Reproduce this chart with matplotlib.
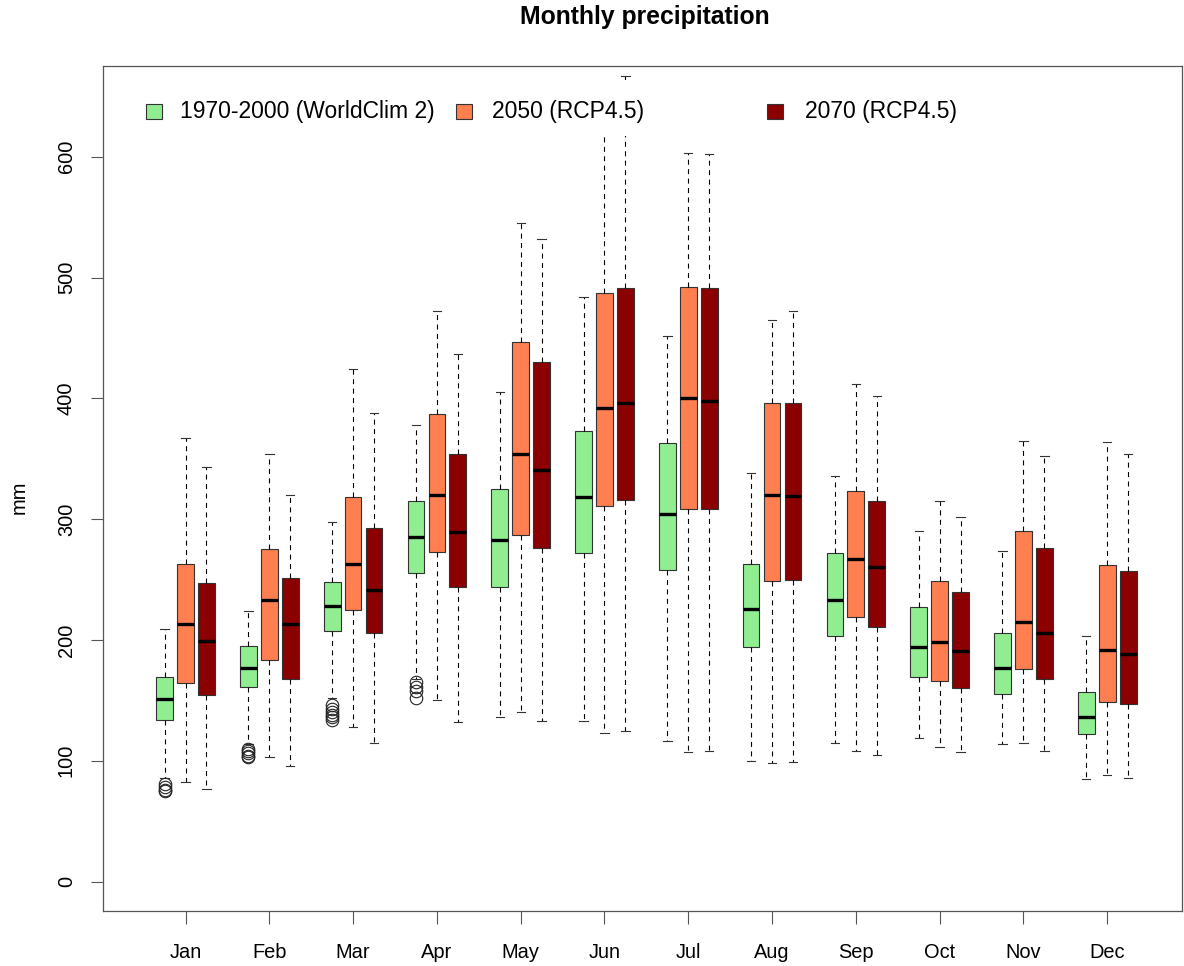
import matplotlib
matplotlib.use("Agg")
import matplotlib.pyplot as plt
from matplotlib.patches import Rectangle

# ======================
# data (mm)
# ======================
months = ["Jan", "Feb", "Mar", "Apr", "May", "Jun",
          "Jul", "Aug", "Sep", "Oct", "Nov", "Dec"]
series = ["1970-2000 (WorldClim 2)", "2050 (RCP4.5)", "2070 (RCP4.5)"]

# per series: lower whisker, q1, median, q3, upper whisker
wc_lo  = [86, 114, 152, 168, 136, 133, 116, 100, 115, 119, 114, 85]
wc_q1  = [134, 161, 207, 255, 244, 272, 258, 194, 203, 169, 155, 122]
wc_med = [151, 177, 228, 285, 283, 318, 304, 226, 233, 194, 177, 136]
wc_q3  = [169, 195, 248, 315, 325, 373, 363, 263, 272, 227, 206, 157]
wc_hi  = [209, 224, 298, 378, 405, 484, 452, 338, 336, 290, 274, 203]
wc_out = [[81, 78, 76, 75], [110, 108, 106, 104, 103],
          [146, 143, 140, 138, 136, 134], [165, 161, 158, 152],
          [], [], [], [], [], [], [], []]

r50_lo  = [82, 103, 128, 150, 140, 123, 107, 98, 108, 111, 115, 88]
r50_q1  = [164, 183, 225, 273, 287, 311, 308, 249, 219, 166, 176, 149]
r50_med = [213, 233, 263, 320, 354, 392, 400, 320, 267, 198, 215, 192]
r50_q3  = [263, 275, 318, 387, 447, 487, 492, 396, 323, 249, 290, 262]
r50_hi  = [367, 354, 424, 472, 545, 635, 603, 465, 412, 315, 365, 364]

r70_lo  = [77, 96, 115, 132, 133, 125, 108, 99, 105, 107, 108, 86]
r70_q1  = [154, 168, 206, 244, 276, 316, 308, 250, 211, 160, 168, 147]
r70_med = [199, 213, 241, 289, 341, 396, 398, 319, 260, 191, 206, 188]
r70_q3  = [247, 251, 293, 354, 430, 491, 491, 396, 315, 240, 276, 257]
r70_hi  = [343, 320, 388, 437, 532, 667, 602, 472, 402, 302, 352, 354]

colors = ["#90EE90", "#FF7F50", "#8B0000"]

# ======================
# style
# ======================
plt.rcParams.update({
    "font.family": ["Liberation Sans", "DejaVu Sans"],
    "font.size": 14.4,
})

fig = plt.figure(figsize=(11.84, 9.66), dpi=100)
ax = fig.add_axes([103 / 1184, 1 - 911 / 966, 1079 / 1184, 845 / 966])


def make_stats(lo, q1, med, q3, hi, out=None):
    stats = []
    for i in range(len(lo)):
        stats.append({
            "whislo": lo[i], "q1": q1[i], "med": med[i],
            "q3": q3[i], "whishi": hi[i],
            "fliers": out[i] if out is not None else [],
        })
    return stats


groups = [
    make_stats(wc_lo, wc_q1, wc_med, wc_q3, wc_hi, wc_out),
    make_stats(r50_lo, r50_q1, r50_med, r50_q3, r50_hi),
    make_stats(r70_lo, r70_q1, r70_med, r70_q3, r70_hi),
]

edge = "#333333"
for k, stats in enumerate(groups):
    pos = [4 * i + 1 + k for i in range(len(months))]
    ax.bxp(stats, positions=pos, widths=0.8, patch_artist=True,
           manage_ticks=False,
           boxprops=dict(facecolor=colors[k], edgecolor=edge, linewidth=0.8),
           medianprops=dict(color="black", linewidth=2.4, solid_capstyle="butt"),
           whiskerprops=dict(color="black", linewidth=0.8,
                             linestyle=(0, (4.5, 4))),
           capprops=dict(color="#333333", linewidth=0.8),
           capwidths=0.4,
           flierprops=dict(marker="o", markerfacecolor="none",
                           markeredgecolor="#222222", markersize=9,
                           markeredgewidth=0.8, linestyle="none"))

# ======================
# axes
# ======================
ax.set_xlim(-1.94, 49.57)
ax.set_ylim(-24.4, 675.1)
ax.set_xticks([4 * i + 2 for i in range(len(months))])
ax.set_xticklabels(months)
ax.set_yticks(range(0, 601, 100))
ax.set_yticklabels([str(v) for v in range(0, 601, 100)],
                   rotation=90, va="center")
ax.tick_params(axis="both", length=9, width=0.8, color="#555555",
               labelsize=14.4)
ax.tick_params(axis="x", pad=14)
ax.tick_params(axis="y", pad=10.5)
for s in ax.spines.values():
    s.set_color("#555555")
    s.set_linewidth(0.9)

ax.set_ylabel("mm", fontsize=14.4)
ax.yaxis.set_label_coords(-(103 - 29) / 1079, (911 - 497) / 845)

fig.text(645 / 1184, 1 - 17 / 966, "Monthly precipitation",
         ha="center", va="center", fontsize=17.8, fontweight="bold")

# ======================
# legend (white background, no frame)
# ======================
ax.add_patch(Rectangle((0.025, 0.917), 0.80, 0.066, transform=ax.transAxes,
                       facecolor="white", edgecolor="none", zorder=5))
sq_x = [0.0469, 0.335, 0.6228]
txt_x = [0.0714, 0.3605, 0.6506]
ly = 0.9456
for k in range(3):
    ax.add_patch(Rectangle((sq_x[k] - 0.0074, ly - 0.0089), 0.0148, 0.0178,
                           transform=ax.transAxes, facecolor=colors[k],
                           edgecolor="#333333", linewidth=0.8, zorder=6))
    ax.text(txt_x[k], ly, series[k], transform=ax.transAxes,
            ha="left", va="center", fontsize=16.5, zorder=6)

plt.savefig("out.png", dpi=100)
